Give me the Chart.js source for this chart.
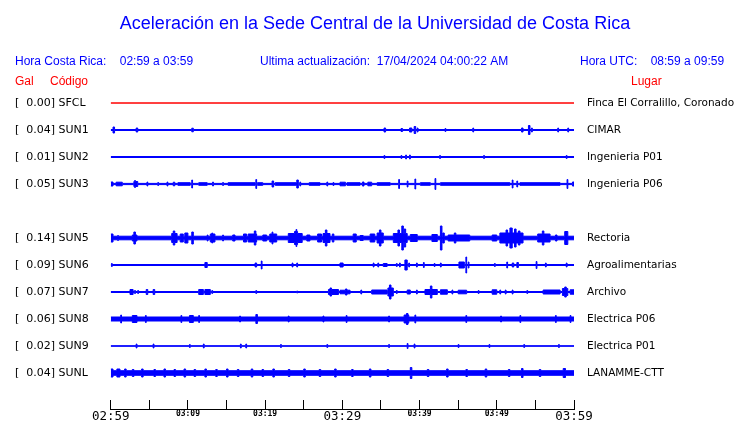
<!DOCTYPE html>
<html lang="es">
<head>
<meta charset="utf-8">
<title>Aceleración - Sede Central UCR</title>
<script src="https://cdn.jsdelivr.net/npm/chart.js@4.4.1/dist/chart.umd.min.js"></script>
<style>
  html, body { margin: 0; padding: 0; background: #fff; }
  #contenedor { position: relative; width: 740px; height: 423px; }
</style>
</head>
<body>
<div id="contenedor"><canvas id="chart"></canvas></div>
<script>
// Textos de la cabecera
const titulo = 'Aceleración en la Sede Central de la Universidad de Costa Rica';
const horaLocal = '02:59 a 03:59';
const horaUTC = '08:59 a 09:59';
const actualizacion = '17/04/2024 04:00:22 AM';

// Estaciones (SUN4 sin datos: su fila queda vacía)
const codigos = ['SFCL', 'SUN1', 'SUN2', 'SUN3', 'SUN4', 'SUN5', 'SUN6', 'SUN7', 'SUN8', 'SUN9', 'SUNL'];
const pga = [0.00, 0.04, 0.01, 0.05, null, 0.14, 0.09, 0.07, 0.06, 0.02, 0.04];
const lugares = ['Finca El Corralillo, Coronado', 'CIMAR', 'Ingenieria P01', 'Ingenieria P06', '',
    'Rectoria', 'Agroalimentarias', 'Archivo', 'Electrica P06', 'Electrica P01', 'LANAMME-CTT'];

// Eje de tiempo (minutos desde 02:59)
const etiquetasTiempo = ['02:59', '03:09', '03:19', '03:29', '03:39', '03:49', '03:59'];

// Ruido de fondo de cada traza (amplitud relativa)
const ruido = [0, 0.5, 0.5, 0.6, null, 1.8, 0.5, 0.5, 2, 0.3, 2.3];

// Eventos de cada traza: [minuto inicio, minuto fin, amplitud relativa]
const eventosSFCL = [];
const eventosSUN1 = [[0.3, 0.5, 3], [3.3, 3.5, 2], [10.5, 10.7, 1.8], [35.4, 35.6, 2], [37.6, 37.8, 1.5],
    [38.7, 39.0, 2], [39.3, 39.5, 3.5], [39.7, 39.8, 2], [43.3, 43.4, 1.5], [46.9, 47.0, 2],
    [53.2, 53.4, 2], [54.1, 54.3, 4.5], [54.5, 54.6, 2], [57.9, 58.0, 2], [59.2, 59.3, 2]];
const eventosSUN2 = [[35.4, 35.5, 1.5], [37.6, 37.7, 1.5], [38.2, 38.3, 2], [38.7, 38.8, 2],
    [42.6, 42.7, 1.5], [48.3, 48.4, 1.5], [59.0, 59.1, 1.5]];
const eventosSUN3 = [[0, 0.3, 2], [0.7, 1.5, 1.8], [3.0, 3.5, 2.5], [3.1, 3.2, 3.5], [4.7, 4.8, 2],
    [6.1, 6.2, 1.5], [7.3, 7.4, 2], [8.1, 8.3, 1.8], [8.7, 10.3, 1.3], [10.5, 10.6, 4],
    [11.4, 12.5, 1.3], [13.2, 13.3, 2], [14.5, 14.6, 1.5], [15.2, 18.7, 1.3], [18.8, 18.9, 4.5],
    [19.0, 19.7, 1.3], [20.9, 21.1, 3], [21.3, 24.1, 1.3], [24.1, 24.3, 4], [24.5, 24.6, 2],
    [25.7, 27.1, 1.3], [28.0, 28.1, 2], [28.8, 28.9, 1.5], [29.7, 30.4, 1.8], [30.6, 32.3, 1.3],
    [32.6, 32.8, 2], [33.3, 33.8, 1.8], [34.5, 36.2, 1.3], [37.3, 37.4, 4.5], [38.4, 38.5, 3],
    [39.4, 39.5, 5], [40.1, 41.4, 1.3], [42.0, 42.1, 5.5], [42.7, 51.7, 1.3], [52.0, 52.1, 4],
    [52.6, 52.7, 3], [53.0, 58.2, 1.3], [59.1, 59.2, 4.5], [59.8, 60, 2]];
const eventosSUN5 = [[0, 0.3, 4], [0.9, 1.0, 2.5], [2.8, 3.4, 3], [3.0, 3.2, 6], [7.9, 8.6, 4.5],
    [8.1, 8.3, 7], [9.0, 9.4, 4], [9.6, 10.0, 5], [10.5, 10.7, 6], [12.5, 12.6, 3], [12.9, 13.5, 4],
    [13.1, 13.2, 5], [14.5, 14.6, 3], [15.8, 16.1, 3], [17.2, 17.6, 4], [17.8, 18.9, 4],
    [18.6, 18.8, 7], [19.7, 20.2, 3], [20.6, 21.5, 4], [20.9, 21.0, 6], [23.0, 24.8, 4.5],
    [23.8, 24.2, 6.5], [24.0, 24.1, 8.5], [25.4, 25.8, 3], [26.8, 27.3, 4], [27.5, 28.4, 4.5],
    [27.8, 28.0, 8], [28.7, 28.9, 4], [31.4, 31.8, 4], [32.3, 32.7, 2.5], [33.6, 34.2, 4],
    [34.5, 35.3, 5], [34.8, 35.0, 8], [36.6, 38.4, 4.5], [37.2, 37.4, 8], [37.7, 37.9, 12],
    [38.0, 38.2, 9], [38.8, 39.7, 3.5], [41.6, 42.3, 3.5], [42.7, 42.9, 12], [43.0, 43.2, 5],
    [43.7, 46.5, 3], [44.5, 44.7, 5], [49.4, 50.0, 3], [50.4, 53.4, 5], [51.2, 51.4, 8],
    [51.7, 52.0, 10], [52.3, 52.5, 9], [52.8, 53.0, 7], [55.3, 56.9, 4], [55.9, 56.1, 7],
    [57.6, 57.8, 3], [58.8, 59.2, 6.5]];
const eventosSUN6 = [[0.1, 0.2, 1.5], [12.2, 12.5, 2.5], [18.7, 18.9, 2], [19.5, 19.6, 4], [23.5, 23.6, 2],
    [24.1, 24.2, 2], [29.7, 30.1, 2], [34.0, 34.1, 2], [34.6, 34.7, 2], [35.3, 35.8, 1.5],
    [37.0, 37.1, 1.5], [37.4, 37.5, 2], [38.1, 38.4, 5], [38.6, 38.7, 2], [39.6, 39.7, 2],
    [40.5, 40.6, 2.5], [41.9, 42.0, 1.5], [42.7, 42.8, 2], [45.1, 45.8, 3], [46.0, 46.1, 8],
    [46.3, 46.4, 3], [49.7, 49.8, 1.5], [51.3, 51.4, 3], [52.0, 52.2, 2], [52.6, 52.8, 2.5],
    [55.1, 55.2, 3.5], [56.3, 56.4, 2], [59.0, 59.1, 2]];
const eventosSUN7 = [[2.5, 2.9, 2.5], [3.1, 3.2, 1.5], [3.5, 3.6, 1.5], [4.6, 4.8, 2.5], [5.5, 5.7, 2.5],
    [11.4, 12.0, 2.5], [12.2, 12.9, 2.5], [13.1, 13.2, 1.5], [18.8, 18.9, 1.5], [24.1, 24.2, 1],
    [28.2, 29.5, 2.5], [28.4, 28.6, 4], [29.7, 31.0, 1.8], [30.4, 30.6, 3], [32.4, 32.5, 2],
    [33.8, 35.8, 2], [35.9, 36.6, 4], [36.1, 36.3, 7], [37.0, 37.1, 1.5], [38.4, 38.8, 2],
    [39.6, 39.7, 2], [40.7, 42.3, 2.5], [41.4, 41.6, 6], [42.7, 43.6, 2.2], [44.2, 44.3, 2],
    [45.0, 46.1, 1.8], [47.6, 47.7, 1.5], [49.4, 50.0, 2.2], [50.4, 50.5, 2], [51.1, 51.2, 2],
    [52.0, 52.1, 2], [53.9, 54.0, 1.5], [56.0, 58.2, 2], [58.5, 59.2, 3.5], [58.8, 59.0, 5],
    [59.5, 60, 2.2]];
const eventosSUN8 = [[1.3, 1.4, 4], [2.8, 3.4, 3.5], [4.5, 4.6, 3.5], [9.1, 9.2, 3.5], [10.2, 10.7, 3.5],
    [11.4, 11.5, 3.5], [16.7, 16.8, 3], [18.8, 19.0, 4.5], [23.0, 23.1, 3], [27.5, 27.6, 3],
    [30.5, 30.6, 3.5], [36.0, 36.1, 3], [38.0, 38.6, 4], [38.3, 38.5, 5.5], [39.4, 39.5, 4],
    [46.0, 46.1, 3.5], [50.5, 50.6, 3], [53.0, 53.1, 3.5], [57.6, 57.7, 3.5], [59.5, 59.6, 3.5]];
const eventosSUN9 = [[3.3, 3.4, 2], [5.5, 5.6, 2], [10.2, 10.3, 1.5], [12.0, 12.1, 2], [16.8, 16.9, 2],
    [17.5, 17.6, 2], [22.0, 22.1, 1.5], [28.0, 28.1, 1.5], [36.0, 36.1, 1.5], [38.4, 38.5, 2.5],
    [39.3, 39.4, 2], [45.0, 45.1, 1.5], [49.0, 49.1, 1.5], [53.5, 53.6, 1.5], [58.0, 58.1, 1.5]];
const eventosSUNL = [[0.0, 0.3, 4], [0.8, 1.2, 4], [1.8, 2.0, 4], [2.8, 3.0, 3.5], [4.0, 4.2, 4],
    [5.6, 5.8, 3.5], [6.9, 7.1, 4], [8.2, 8.4, 3.5], [9.5, 9.7, 4], [10.8, 11.0, 3.5], [12.2, 12.4, 4],
    [13.6, 13.8, 3.5], [15.0, 15.2, 4], [16.4, 16.6, 3.5], [18.2, 18.4, 4], [19.6, 19.8, 3.5],
    [21.0, 21.2, 4], [23.0, 23.2, 3.5], [25.0, 25.2, 4], [27.0, 27.2, 3.5], [29.0, 29.2, 4],
    [31.2, 31.4, 3.5], [33.5, 33.7, 4], [35.8, 36.0, 3.5], [38.8, 39.0, 5.5], [41.0, 41.2, 3.5],
    [43.5, 43.7, 4], [46.0, 46.2, 3.5], [48.5, 48.7, 4], [51.5, 51.7, 3.5], [53.2, 53.4, 4.5],
    [55.5, 55.7, 3.5], [58.6, 58.9, 4.5]];

const eventos = [eventosSFCL, eventosSUN1, eventosSUN2, eventosSUN3, null, eventosSUN5,
    eventosSUN6, eventosSUN7, eventosSUN8, eventosSUN9, eventosSUNL];

const AMP_FILA = 27; // amplitud relativa equivalente a una fila

function colorTraza(codigo) {
    return codigo === 'SFCL' ? '#ff0000' : '#0000ff';
}

// envolvente escalonada de una traza a partir de sus eventos
function envolvente(evs, base) {
    const cortes = new Set([0, 60]);
    evs.forEach(e => { cortes.add(e[0]); cortes.add(e[1]); });
    return [...cortes].sort((a, b) => a - b).map(t => {
        let a = base;
        evs.forEach(e => { if (e[0] <= t && t < e[1]) a = Math.max(a, e[2]); });
        return { t, a };
    });
}

const datasets = [];
codigos.forEach((cod, fila) => {
    if (!eventos[fila]) return;
    const env = envolvente(eventos[fila], ruido[fila]);
    const color = colorTraza(cod);
    const comun = {
        stepped: true, pointRadius: 0, borderWidth: 1, tension: 0,
        borderColor: color, backgroundColor: color
    };
    datasets.push({ ...comun, label: cod, fill: false,
        data: env.map(p => ({ x: p.t, y: fila - p.a / AMP_FILA })) });
    datasets.push({ ...comun, label: cod + ' inf', fill: '-1',
        data: env.map(p => ({ x: p.t, y: fila + p.a / AMP_FILA })) });
});

function etiquetaIzq(fila) {
    if (pga[fila] === null) return '';
    return '[  ' + pga[fila].toFixed(2) + '] ' + codigos[fila];
}

const filasConDatos = codigos.map((c, i) => i).filter(i => pga[i] !== null);

// cabecera con titulo y horas
const cabecera = {
    id: 'cabecera',
    afterDraw(chart) {
        const ctx = chart.ctx;
        ctx.save();
        ctx.textBaseline = 'alphabetic';
        ctx.fillStyle = '#0000ff';
        ctx.font = '18px "Liberation Sans", Arial, sans-serif';
        ctx.textAlign = 'center';
        ctx.fillText(titulo, 375, 29);
        ctx.font = '12px "Liberation Sans", Arial, sans-serif';
        ctx.textAlign = 'left';
        ctx.fillText('Hora Costa Rica:    ' + horaLocal, 15, 65);
        ctx.fillText('Ultima actualización:  ' + actualizacion, 260, 65);
        ctx.fillText('Hora UTC:    ' + horaUTC, 580, 65);
        ctx.fillStyle = '#ff0000';
        ctx.fillText('Gal', 15, 85);
        ctx.fillText('Código', 50, 85);
        ctx.fillText('Lugar', 631, 85);
        ctx.restore();
    }
};

const ejeY = {
    min: -0.5,
    max: 11.333,
    reverse: true,
    border: { display: false },
    afterBuildTicks: (scale) => {
        scale.ticks = filasConDatos.map(v => ({ value: v }));
    }
};

function initChart() {
    const ctx = document.getElementById('chart').getContext('2d');
    new Chart(ctx, {
        type: 'line',
        data: { datasets },
        options: {
            responsive: true,
            maintainAspectRatio: false,
            animation: false,
            layout: { padding: { top: 89.5, left: 15, right: 0, bottom: 0 } },
            plugins: {
                legend: { display: false },
                tooltip: { enabled: false },
                title: { display: false }
            },
            scales: {
                x: {
                    type: 'linear',
                    min: 0,
                    max: 60,
                    border: { display: true, color: '#000', width: 1 },
                    grid: { drawOnChartArea: false, drawTicks: true, tickLength: -9, color: '#000' },
                    ticks: {
                        stepSize: 5,
                        padding: 9,
                        maxRotation: 0,
                        autoSkip: false,
                        color: '#000',
                        font: (c) => (c.tick && c.tick.value % 30 === 0)
                            ? { family: '"DejaVu Sans Mono", monospace', size: 12.5 }
                            : { family: '"DejaVu Sans Mono", monospace', size: 8, weight: 'bold' },
                        callback: (v) => v % 10 === 0 ? etiquetasTiempo[v / 10] : ''
                    },
                    afterFit: (scale) => { scale.height = 14; }
                },
                y: {
                    ...ejeY,
                    position: 'left',
                    grid: { display: false },
                    ticks: {
                        crossAlign: 'far',
                        color: '#000',
                        autoSkip: false,
                        font: { family: '"DejaVu Sans", sans-serif', size: 11 },
                        callback: (v) => etiquetaIzq(v)
                    },
                    afterFit: (scale) => { scale.width = 95.7; }
                },
                y2: {
                    ...ejeY,
                    position: 'right',
                    grid: { display: false, drawTicks: true, tickLength: 10 },
                    ticks: {
                        crossAlign: 'near',
                        padding: 3,
                        color: '#000',
                        autoSkip: false,
                        font: { family: '"DejaVu Sans", sans-serif', size: 10.5 },
                        callback: (v) => lugares[v]
                    },
                    afterFit: (scale) => { scale.width = 166; }
                }
            }
        },
        plugins: [cabecera]
    });
}

window.addEventListener('load', () => {
    initChart();
});
</script>
</body>
</html>
